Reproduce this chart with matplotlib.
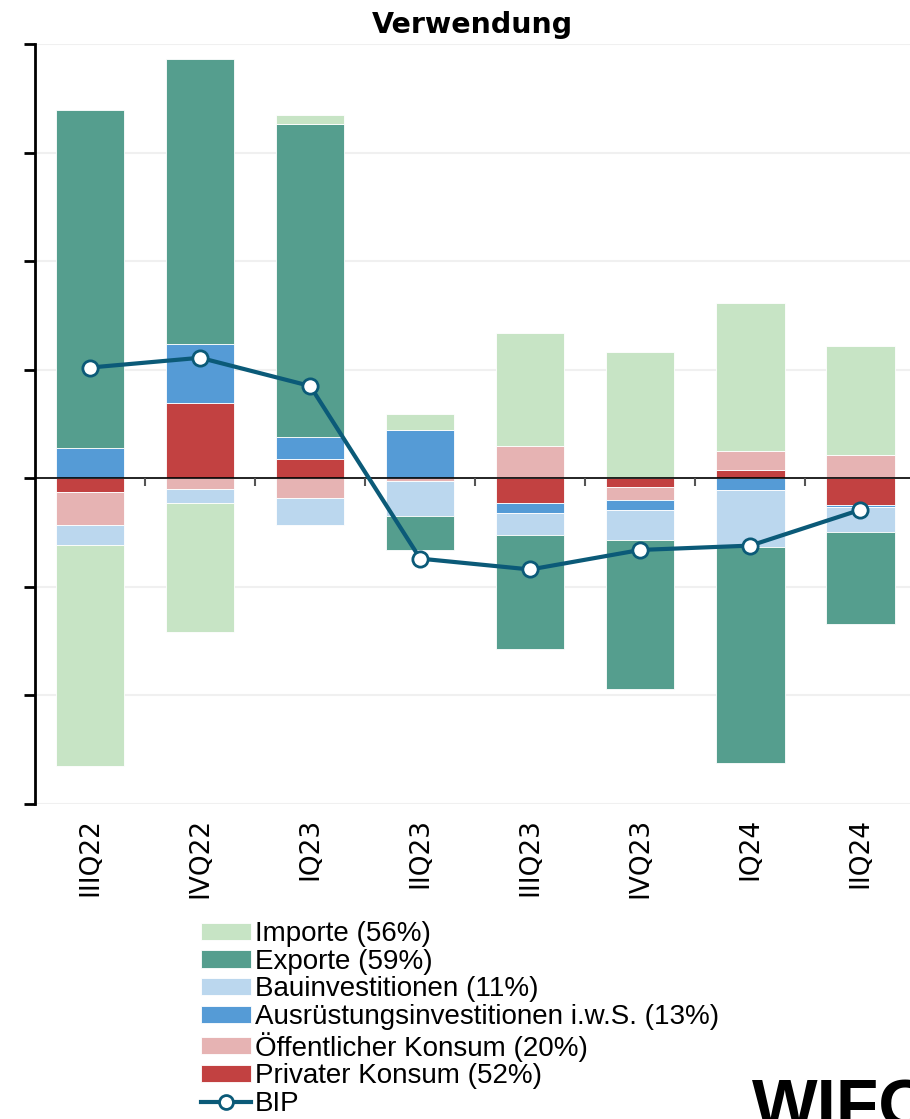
import numpy as np
import matplotlib.pyplot as plt
from matplotlib.lines import Line2D

quartale = ['IIIQ22', 'IVQ22', 'IQ23', 'IIQ23', 'IIIQ23', 'IVQ23', 'IQ24', 'IIQ24']

# Wachstumsbeitraege, Reihenfolge der Stapelung ab Null
privat = [-0.13, 0.69, 0.18, 0.0, -0.23, -0.08, 0.08, -0.25]
oeffentlich = [-0.30, -0.10, -0.18, -0.025, 0.30, -0.12, 0.17, 0.21]
ausruestung = [0.28, 0.55, 0.20, 0.445, -0.09, -0.09, -0.11, -0.015]
bau = [-0.18, -0.13, -0.25, -0.32, -0.20, -0.28, -0.52, -0.23]
exporte = [3.11, 2.62, 2.88, -0.32, -1.05, -1.37, -1.99, -0.85]
importe = [-2.04, -1.19, 0.09, 0.15, 1.04, 1.16, 1.36, 1.01]
bip = [1.02, 1.11, 0.85, -0.74, -0.84, -0.66, -0.62, -0.29]

reihen = [
    (privat, '#c24141', 'Privater Konsum (52%)'),
    (oeffentlich, '#e6b3b3', 'Öffentlicher Konsum (20%)'),
    (ausruestung, '#559bd6', 'Ausrüstungsinvestitionen i.w.S. (13%)'),
    (bau, '#bbd7ee', 'Bauinvestitionen (11%)'),
    (exporte, '#559e8e', 'Exporte (59%)'),
    (importe, '#c7e4c5', 'Importe (56%)'),
]
linienfarbe = '#0b5a78'

fig = plt.figure(figsize=(9.1, 11.19), dpi=100)
ax = fig.add_axes([35/910, 1-804/1119, 1-35/910, (804-44)/1119])

x = np.arange(len(quartale))
pos = np.zeros(len(x))
neg = np.zeros(len(x))
handles = {}
for werte, farbe, name in reihen:
    w = np.array(werte)
    unten = np.where(w >= 0, pos, neg)
    b = ax.bar(x, w, 0.62, bottom=unten, color=farbe, edgecolor='white', linewidth=0.6, zorder=2)
    handles[name] = b
    pos = pos + np.clip(w, 0, None)
    neg = neg + np.clip(w, None, 0)

ax.axhline(0, color='black', lw=1.2, zorder=3)
ax.vlines(x[:-1] + 0.5, -0.075, 0, color='#555555', lw=1.5, zorder=3)
ax.plot(x, bip, color=linienfarbe, lw=3, marker='o', markersize=11,
        markerfacecolor='white', markeredgecolor=linienfarbe, markeredgewidth=2, zorder=4)

ax.set_xlim(-0.5, 7.45)
ax.set_ylim(-3, 4)
ax.set_yticks(np.arange(-3, 5))
ax.set_yticklabels([])
ax.yaxis.grid(True, color='#f0f0f0', lw=1.5, zorder=0)
ax.set_axisbelow(True)
ax.tick_params(axis='y', direction='out', length=8, width=2, color='black')
ax.set_xticks(x)
ax.set_xticklabels(quartale, rotation=90, fontsize=19, va='top', ha='center')
ax.tick_params(axis='x', length=0, pad=10)
for s in ['top', 'right', 'bottom']:
    ax.spines[s].set_visible(False)
ax.spines['left'].set_linewidth(2)

ax.set_title('Verwendung', fontsize=20.5, fontweight='bold', pad=8)

bip_handle = Line2D([], [], color=linienfarbe, lw=3, marker='o', markersize=10,
                    markerfacecolor='white', markeredgecolor=linienfarbe, markeredgewidth=2)
namen = [r[2] for r in reihen][::-1]
fig.legend([handles[n] for n in namen] + [bip_handle], namen + ['BIP'],
           loc='upper left', bbox_to_anchor=(201/910, 1-921/1119), frameon=False,
           prop={'family': 'Liberation Sans', 'size': 20}, handlelength=1.8,
           handleheight=0.58, handletextpad=0.15, labelspacing=0.06, borderpad=0,
           borderaxespad=0)

fig.text(752/910, -8/1119, 'WIFO', fontsize=50, fontweight='bold', family='Liberation Sans',
         ha='left', va='baseline')

fig.savefig('out.png', dpi=100)
